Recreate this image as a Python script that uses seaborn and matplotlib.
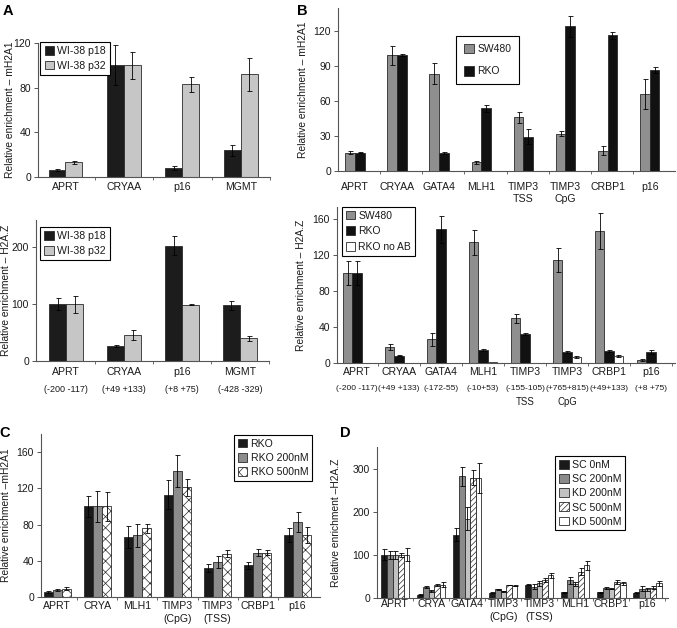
import numpy as np
import pandas as pd
import matplotlib
matplotlib.use('Agg')
import matplotlib.pyplot as plt
import seaborn as sns
from matplotlib.patches import Patch

sns.set_style('ticks')
plt.rcParams['font.family'] = ['Liberation Sans', 'DejaVu Sans']
plt.rcParams['hatch.linewidth'] = 0.5

# ---------------- data ----------------
# Panel A
a_genes = ['APRT', 'CRYAA', 'p16', 'MGMT']
a_coords = ['(-200 -117)', '(+49 +133)', '(+8 +75)', '(-428 -329)']
a_series = ['WI-38 p18', 'WI-38 p32']
a_mh2a1_p18 = [6, 100, 8, 24]
a_mh2a1_p18_err = [1, 18, 1.5, 5]
a_mh2a1_p32 = [13, 100, 83, 92]
a_mh2a1_p32_err = [1.5, 12, 7, 15]
a_h2az_p18 = [100, 27, 203, 98]
a_h2az_p18_err = [11, 2, 16, 8]
a_h2az_p32 = [100, 46, 99, 40]
a_h2az_p32_err = [15, 9, 1, 4]

# Panel B
b_genes = ['APRT', 'CRYAA', 'GATA4', 'MLH1', 'TIMP3\nTSS', 'TIMP3\nCpG', 'CRBP1', 'p16']
b_genes_bottom = ['APRT', 'CRYAA', 'GATA4', 'MLH1', 'TIMP3', 'TIMP3', 'CRBP1', 'p16']
b_coords = ['(-200 -117)', '(+49 +133)', '(-172-55)', '(-10+53)', '(-155-105)',
            '(+765+815)', '(+49+133)', '(+8 +75)']
b_third = ['', '', '', '', 'TSS', 'CpG', '', '']
b_top_series = ['SW480', 'RKO']
b_top_sw480 = [15.8, 99.4, 83.6, 7.5, 46, 32.2, 17.5, 66.3]
b_top_sw480_err = [1.5, 8, 9, 1.5, 5, 2, 4, 13]
b_top_rko = [15.8, 99.4, 15.5, 53.7, 29.3, 124.3, 116.6, 87]
b_top_rko_err = [0.5, 1, 0.5, 3, 6.5, 9, 3, 2.5]
b_bot_series = ['SW480', 'RKO', 'RKO no AB']
b_bot_sw480 = [100, 17.8, 26.3, 134, 49.6, 114.4, 146, 3]
b_bot_sw480_err = [13, 3, 7, 14, 5, 13, 20, 1]
b_bot_rko = [100, 8.1, 148.5, 14, 32.2, 12.2, 13.3, 12.2]
b_bot_rko_err = [13, 0.5, 15, 1, 1, 1, 1, 2]
b_bot_noab = [0.5, 0, 0, 0.7, 0, 6.7, 8.1, 0]
b_bot_noab_err = [0, 0, 0, 0, 0, 1, 1, 0]

# Panel C
c_genes = ['APRT', 'CRYA', 'MLH1', 'TIMP3\n(CpG)', 'TIMP3\n(TSS)', 'CRBP1', 'p16']
c_series = ['RKO', 'RKO 200nM', 'RKO 500nM']
c_rko = [5.9, 100, 66.5, 112.7, 32, 35, 68.4]
c_rko_err = [1, 12, 12, 16, 4, 4, 8]
c_200 = [7.8, 100, 68, 139.3, 38.8, 49, 83]
c_200_err = [1, 17, 13, 18, 7, 4, 11]
c_500 = [9.2, 100, 75.8, 121, 48, 49, 68.7]
c_500_err = [1.5, 16, 5, 9, 4, 3, 9]

# Panel D
d_genes = ['APRT', 'CRYA', 'GATA4', 'TIMP3\n(CpG)', 'TIMP3\n(TSS)', 'MLH1', 'CRBP1', 'p16']
d_series = ['SC 0nM', 'SC 200nM', 'KD 200nM', 'SC 500nM', 'KD 500nM']
d_sc0 = [100, 8, 147, 12, 31, 13, 13, 12]
d_sc0_err = [13, 1, 16, 1, 1, 1, 1, 1]
d_sc200 = [100, 25, 282, 20, 26, 41, 24, 22]
d_sc200_err = [10, 2, 22, 1, 6, 8, 2, 5]
d_kd200 = [100, 16, 184, 16, 34, 32, 22, 20]
d_kd200_err = [10, 2, 27, 1, 6, 5, 2, 3]
d_sc500 = [100, 30, 279, 30, 42, 61, 37, 24]
d_sc500_err = [5, 3, 17, 1, 4, 8, 5, 3]
d_kd500 = [100, 31, 279, 28, 53, 76, 34, 34]
d_kd500_err = [15, 5, 35, 1, 6, 10, 4, 6]

# ---------------- layout ----------------
W, H = 677, 628
fig = plt.figure(figsize=(W / 100, H / 100), dpi=100)


def rect(l, r, t, b):
    return [l / W, 1 - b / H, (r - l) / W, (b - t) / H]


EDGE = '#2a2a2a'
TXT = '#1a1a1a'


def draw(ax, cats, series, values, errors, colors, width, hatches=None):
    rows = []
    for s, vals in zip(series, values):
        for c, v in zip(cats, vals):
            rows.append({'gene': c, 'series': s, 'value': v})
    df = pd.DataFrame(rows)
    sns.barplot(data=df, x='gene', y='value', hue='series', order=cats,
                hue_order=series, palette=colors, width=width, errorbar=None,
                legend=False, ax=ax, edgecolor=EDGE, linewidth=0.6,
                saturation=1, gap=0)
    for k, (cont, errs) in enumerate(zip(ax.containers, errors)):
        xs = [b.get_x() + b.get_width() / 2 for b in cont]
        hs = [b.get_height() for b in cont]
        if hatches and hatches[k]:
            for b in cont:
                b.set_hatch(hatches[k])
        e = np.array(errs, dtype=float)
        m = e > 0
        ax.errorbar(np.array(xs)[m], np.array(hs)[m], yerr=e[m], fmt='none',
                    ecolor='black', elinewidth=0.6, capsize=1.8, capthick=0.6)
    ax.set_xlabel('')
    sns.despine(ax=ax)
    for sp in ['left', 'bottom']:
        ax.spines[sp].set_color('#555555')
        ax.spines[sp].set_linewidth(0.8)
    ax.tick_params(axis='y', direction='out', length=3, width=0.7,
                   color='#555555', labelsize=7.5, labelcolor=TXT, pad=2)
    ax.tick_params(axis='x', which='major', length=0, labelsize=7.6, labelcolor=TXT)
    ax.tick_params(axis='x', which='minor', direction='out', length=2.5,
                   width=0.6, color='#555555')


def legend(ax, labels, colors, loc, anchor, hatches=None, fs=7.6, ls=0.45,
           bp=0.4, hl=0.9):
    handles = []
    for i, (lab, col) in enumerate(zip(labels, colors)):
        h = hatches[i] if hatches else None
        handles.append(Patch(facecolor=col, edgecolor=EDGE, linewidth=0.6,
                             hatch=h, label=lab))
    lg = ax.legend(handles=handles, loc=loc, bbox_to_anchor=anchor,
                   fontsize=fs, frameon=True, fancybox=False, framealpha=1,
                   edgecolor='black', labelspacing=ls, borderpad=bp,
                   handlelength=hl, handleheight=hl, handletextpad=0.3,
                   borderaxespad=0)
    lg.get_frame().set_linewidth(0.8)
    for t in lg.get_texts():
        t.set_color(TXT)


def ylab(ax, text, xc):
    ax.set_ylabel(text, fontsize=7.4, color=TXT)
    ax.yaxis.set_label_coords(xc, 0.5)


def sublabels(ax, labels, offset_pt, fs):
    for i, lab in enumerate(labels):
        if lab:
            ax.annotate(lab, xy=(i, 0), xycoords=('data', 'axes fraction'),
                        xytext=(0, -offset_pt), textcoords='offset points',
                        ha='center', va='center', fontsize=fs, color=TXT)


# ---- Panel A top ----
axA1 = fig.add_axes(rect(38, 270, 43, 177))
a_cols = ['#1c1c1c', '#c6c6c6']
draw(axA1, a_genes, a_series, [a_mh2a1_p18, a_mh2a1_p32],
     [a_mh2a1_p18_err, a_mh2a1_p32_err], a_cols, 0.58)
axA1.set_ylim(0, 120)
axA1.set_yticks([0, 40, 80, 120])
axA1.set_xlim(-0.47, 3.46)
axA1.set_xticks(np.arange(len(a_genes)) + 0.5, minor=True)
axA1.tick_params(axis='x', which='major', pad=3.8)
ylab(axA1, 'Relative enrichment – mH2A1', -0.099)
legend(axA1, a_series, a_cols, 'upper left', (0.01, 1.01))

# ---- Panel A bottom ----
axA2 = fig.add_axes(rect(36, 269, 220, 361))
draw(axA2, a_genes, a_series, [a_h2az_p18, a_h2az_p32],
     [a_h2az_p18_err, a_h2az_p32_err], a_cols, 0.59)
axA2.set_ylim(0, 248)
axA2.set_yticks([0, 100, 200])
axA2.set_xlim(-0.52, 3.5)
axA2.set_xticks(np.arange(len(a_genes)) + 0.5, minor=True)
axA2.tick_params(axis='x', which='major', pad=4.5)
ylab(axA2, 'Relative enrichment – H2A.Z', -0.107)
legend(axA2, a_series, a_cols, 'upper left', (0.017, 0.95))
sublabels(axA2, a_coords, 20.2, 6.5)

# ---- Panel B top ----
axB1 = fig.add_axes(rect(338, 675, 8, 171))
b_cols_top = ['#8f8f8f', '#111111']
draw(axB1, b_genes, b_top_series, [b_top_sw480, b_top_rko],
     [b_top_sw480_err, b_top_rko_err], b_cols_top, 0.46)
axB1.set_ylim(0, 140)
axB1.set_yticks([0, 30, 60, 90, 120])
axB1.set_xlim(-0.4, 7.6)
axB1.set_xticks(np.arange(len(b_genes) - 1) + 0.6, minor=True)
axB1.tick_params(axis='x', which='major', pad=8)
ylab(axB1, 'Relative enrichment – mH2A1', -0.089)
legend(axB1, b_top_series, b_cols_top, 'upper left', (0.35, 0.83), fs=7.5,
       ls=1.2, bp=0.75, hl=1.0)

# ---- Panel B bottom ----
axB2 = fig.add_axes(rect(337, 675, 207, 363))
b_cols_bot = ['#8f8f8f', '#111111', '#ffffff']
draw(axB2, b_genes, b_bot_series, [b_bot_sw480, b_bot_rko, b_bot_noab],
     [b_bot_sw480_err, b_bot_rko_err, b_bot_noab_err], b_cols_bot, 0.67)
axB2.set_ylim(0, 173)
axB2.set_yticks([0, 40, 80, 120, 160])
axB2.set_xlim(-0.48, 7.57)
axB2.set_xticks(np.arange(len(b_genes)) + 0.5, minor=True)
axB2.set_xticks(np.arange(len(b_genes)))
axB2.set_xticklabels(b_genes_bottom)
axB2.tick_params(axis='x', which='major', pad=3)
ylab(axB2, 'Relative enrichment – H2A.Z', -0.092)
legend(axB2, b_bot_series, b_cols_bot, 'upper left', (0.015, 1.0), fs=7.5,
       ls=0.55, bp=0.35)
sublabels(axB2, b_coords, 18.7, 6.1)
sublabels(axB2, b_third, 28, 6.9)

# ---- Panel C ----
axC = fig.add_axes(rect(41, 320, 434, 597))
c_cols = ['#1a1a1a', '#8c8c8c', '#ffffff']
c_hatch = [None, None, 'xxx']
draw(axC, c_genes, c_series, [c_rko, c_200, c_500],
     [c_rko_err, c_200_err, c_500_err], c_cols, 0.68, hatches=c_hatch)
axC.set_ylim(0, 180)
axC.set_yticks([0, 40, 80, 120, 160])
axC.set_xlim(-0.41, 6.56)
axC.set_xticks(np.arange(len(c_genes) - 1) + 0.5, minor=True)
axC.tick_params(axis='x', which='major', pad=3)
for t in axC.get_xticklabels():
    t.set_linespacing(1.35)
ylab(axC, 'Relative enrichment –mH2A1', -0.108)
legend(axC, c_series, c_cols, 'upper right', (0.971, 0.994), hatches=c_hatch,
       ls=0.4, bp=0.35)

# ---- Panel D ----
axD = fig.add_axes(rect(377, 668, 447, 598))
d_cols = ['#1a1a1a', '#8a8a8a', '#c2c2c2', '#ffffff', '#ffffff']
d_hatch = [None, None, None, '//////', None]
draw(axD, d_genes, d_series, [d_sc0, d_sc200, d_kd200, d_sc500, d_kd500],
     [d_sc0_err, d_sc200_err, d_kd200_err, d_sc500_err, d_kd500_err],
     d_cols, 0.78, hatches=d_hatch)
axD.set_ylim(0, 350)
axD.set_yticks([0, 100, 200, 300])
axD.set_xlim(-0.51, 7.57)
axD.set_xticks(np.arange(len(d_genes)) + 0.5, minor=True)
axD.tick_params(axis='x', which='major', pad=1)
for t in axD.get_xticklabels():
    t.set_linespacing(1.35)
ylab(axD, 'Relative enrichment –H2A.Z', -0.124)
legend(axD, d_series, d_cols, 'upper right', (0.852, 0.94), hatches=d_hatch,
       ls=0.4, bp=0.35)

# panel letters
for lab, x, y in [('A', 8, 11), ('B', 302, 11), ('C', 5, 433), ('D', 345, 433)]:
    fig.text(x / W, 1 - y / H, lab, fontsize=10.5, fontweight='bold',
             ha='center', va='center', color='black')

fig.savefig('out.png', dpi=100)
